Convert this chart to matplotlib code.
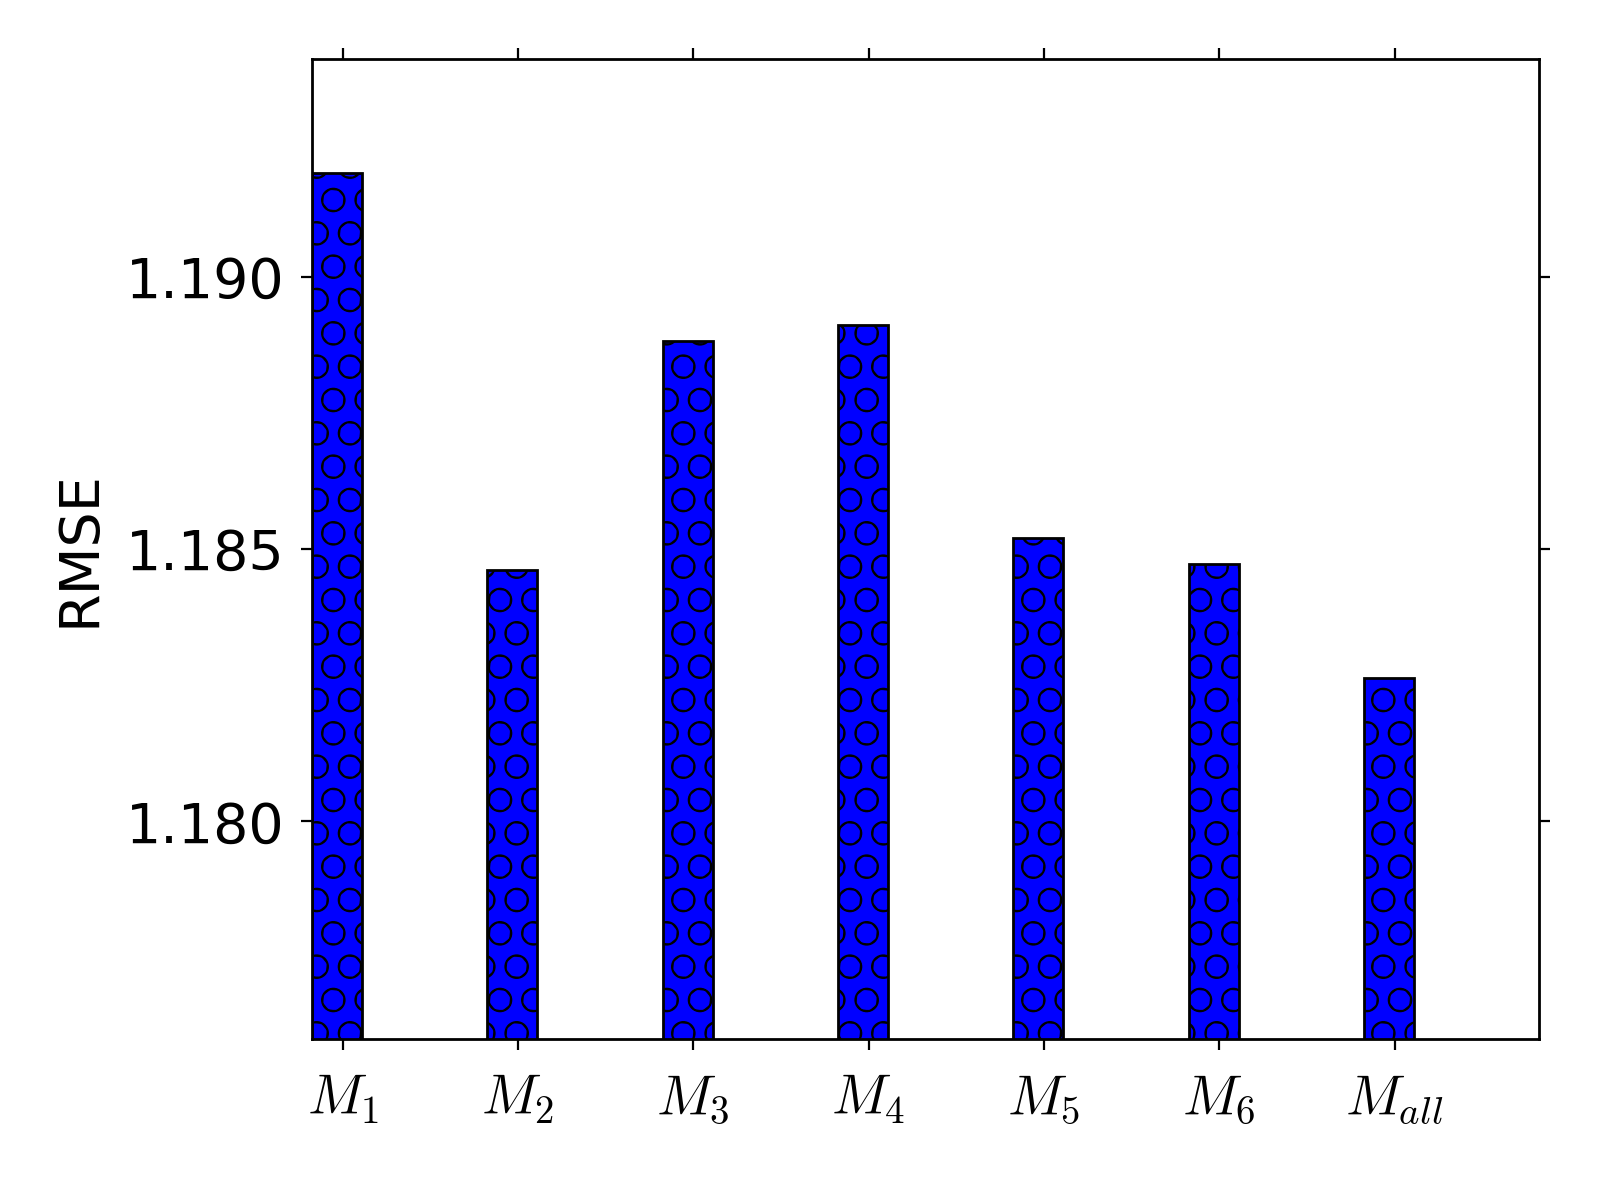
import matplotlib
matplotlib.use("Agg")
import matplotlib.pyplot as plt
import numpy as np

labels = [r"$M_1$", r"$M_2$", r"$M_3$", r"$M_4$", r"$M_5$", r"$M_6$", r"$M_{all}$"]
rmse = [1.19190, 1.18462, 1.18881, 1.18911, 1.18521, 1.18472, 1.18263]
yticks = [1.180, 1.185, 1.190]
ytick_labels = ["1.180", "1.185", "1.190"]

plt.rcParams['mathtext.fontset'] = 'cm'
plt.rcParams['hatch.linewidth'] = 0.45
plt.rcParams['hatch.color'] = '#000033'
plt.rcParams['font.family'] = ['DejaVu Sans']

fig = plt.figure(figsize=(8, 6), dpi=200, facecolor='white')
ax = fig.add_axes([0.195, 0.134, 0.767, 0.817])

ind = np.arange(len(rmse))
width = 0.285
ax.bar(ind, rmse, width, align='edge', color='#0000ff', edgecolor='black',
       linewidth=1.0, hatch='O')

ax.set_xlim(0, 7)
ax.set_ylim(1.176, 1.194)
ax.set_xticks(ind + 0.175)
ax.set_xticklabels(labels, fontsize=20)
ax.set_yticks(yticks)
ax.set_yticklabels(ytick_labels, fontsize=20)
ax.set_ylabel("RMSE", fontsize=20, labelpad=7)

for s in ax.spines.values():
    s.set_linewidth(1.0)
ax.tick_params(direction='out', length=4, width=0.8, top=True, right=True,
               labeltop=False, labelright=False)
ax.tick_params(axis='x', pad=8)
ax.tick_params(axis='y', pad=6)

fig.savefig("out.png", dpi=200, facecolor='white')
